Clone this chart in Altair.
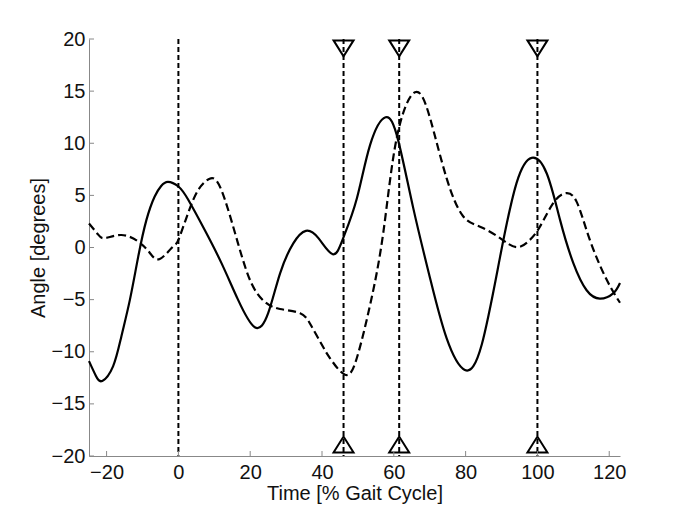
import altair as alt
import pandas as pd

# Solid curve
solid_x = [-24.9, -23, -21.2, -18.2, -15.9, -13.5, -11.2, -8.9, -6.6, -4.8, -2.9, 0, 2.7, 7.3, 12,
           16.6, 21.3, 25, 28.3, 32, 35.5, 39, 43, 45.9, 49.7, 53.4, 57.7, 61.2, 65.4,
           70.1, 74.7, 79.8, 84.5, 89.6, 94.2, 98.4, 102.6, 106.3, 110, 113.7,
           117.4, 121.1, 123]
solid_y = [-10.9, -12.3, -12.8, -11.4, -8.55, -5.0, -0.9, 2.65, 4.9, 5.9, 6.3, 5.85, 4.6, 1.7, -1.5,
           -5.0, -7.65, -6.3, -2.5, 0.4, 1.6, 0.9, -0.65, 0.9, 4.7, 9.85, 12.5, 10.3, 3.8,
           -2.95, -8.7, -11.75, -9.3, -0.9, 6.2, 8.6, 7.1, 2.65, -1.5, -4.1,
           -4.9, -4.4, -3.4]

# Dashed curve
dashed_x = [-24.9, -22.5, -20.5, -15.9, -11.2, -8, -5.2, -1.5, 0, 2.7, 5.5, 8.7, 12, 16.6,
            20.3, 24, 28.3, 33.9, 37, 40.4, 42.2, 46.4, 49.7, 53.4, 57.1, 60.8, 65.9,
            70.1, 74.7, 79.3, 84, 89.6, 94.2, 97.9, 100.7, 104.4, 107.7, 110.9, 114.6, 119.3, 123]
dashed_y = [2.3, 1.3, 0.9, 1.2, 0.57, -0.5, -1.1, 0.1, 0.73, 3.3, 5.5, 6.6, 5.5, 0.4,
            -3.4, -5.2, -5.9, -6.3, -7.5, -9.6, -10.6, -12.2, -10.6, -5.5, 1.5, 10.5, 14.9,
            12.4, 6.65, 3.0, 2.0, 0.9, 0.03, 0.73, 2.0, 4.25, 5.2, 4.4, 0.73, -3.1, -5.3]

event_lines = [0, 46, 61.5, 100]
event_markers = [46, 61.5, 100]
marker_top = 19.1
marker_bottom = -18.9

x_ticks = [-20, 0, 20, 40, 60, 80, 100, 120]
y_ticks = [-20, -15, -10, -5, 0, 5, 10, 15, 20]

X_DOMAIN = [-24.9, 123]
Y_DOMAIN = [-20, 20]
W, H = 531, 417

solid_df = pd.DataFrame({"t": solid_x, "v": solid_y})
dashed_df = pd.DataFrame({"t": dashed_x, "v": dashed_y})
lines_df = pd.DataFrame({"t": event_lines})
top_df = pd.DataFrame({"t": event_markers, "v": [marker_top] * len(event_markers)})
bot_df = pd.DataFrame({"t": event_markers, "v": [marker_bottom] * len(event_markers)})
xt_df = pd.DataFrame({"t": x_ticks})
yt_df = pd.DataFrame({"v": y_ticks})

xscale = alt.Scale(domain=X_DOMAIN, nice=False, zero=False)
yscale = alt.Scale(domain=Y_DOMAIN, nice=False, zero=False)

xaxis = alt.Axis(values=x_ticks, title="Time [% Gait Cycle]", ticks=False, labelPadding=6,
                 titlePadding=1)
yaxis = alt.Axis(values=y_ticks, title="Angle [degrees]", ticks=False, labelPadding=4,
                 titlePadding=3)

X = alt.X("t:Q", scale=xscale, axis=xaxis)
Y = alt.Y("v:Q", scale=yscale, axis=yaxis)

solid = alt.Chart(solid_df).mark_line(color="black", strokeWidth=2.2,
                                      interpolate="natural").encode(x=X, y=Y)
dashed = alt.Chart(dashed_df).mark_line(color="black", strokeWidth=2.2, strokeDash=[8, 4],
                                        interpolate="natural").encode(x=X, y=Y)
vlines = alt.Chart(lines_df).mark_rule(color="black", strokeWidth=2, strokeDash=[5, 3]).encode(
    x=X, y=alt.value(0), y2=alt.value(H))

tri_down = "M -1 -0.8 L 1 -0.8 L 0 0.8 Z"
tri_up = "M -1 0.8 L 1 0.8 L 0 -0.8 Z"
top_m = alt.Chart(top_df).mark_point(shape=tri_down, size=400, filled=False, color="black",
                                     strokeWidth=2, opacity=1).encode(x=X, y=Y)
bot_m = alt.Chart(bot_df).mark_point(shape=tri_up, size=400, filled=False, color="black",
                                     strokeWidth=2, opacity=1).encode(x=X, y=Y)

xticks = alt.Chart(xt_df).mark_rule(color="#888888", strokeWidth=1).encode(
    x=X, y=alt.value(H), y2=alt.value(H - 5))
yticks = alt.Chart(yt_df).mark_rule(color="#888888", strokeWidth=1).encode(
    y=Y, x=alt.value(0), x2=alt.value(5))

chart = alt.layer(solid, dashed, vlines, top_m, bot_m, xticks, yticks).properties(
    width=W, height=H,
    autosize=alt.AutoSizeParams(type="none"),
    padding={"left": 81, "top": 31, "right": 40, "bottom": 60},
).configure_view(stroke=None).configure_axis(
    domainColor="#888888", domainWidth=1, grid=False,
    labelFont="Liberation Sans", labelFontSize=20, labelColor="#111111",
    titleFont="Liberation Sans", titleFontSize=20, titleFontWeight="normal", titleColor="#111111",
)

chart.save("out.html", embed_options={"renderer": "svg", "actions": False})
